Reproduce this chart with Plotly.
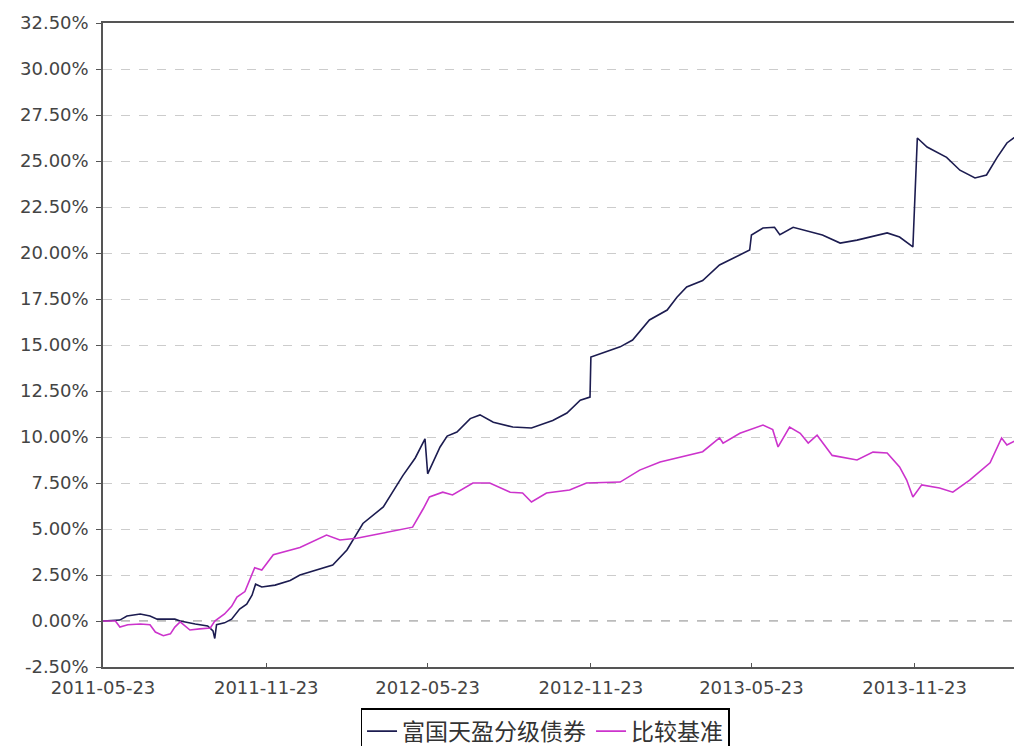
import plotly.graph_objects as go

fund_dates = [
    "2011-05-23", "2011-06-11", "2011-06-19", "2011-07-04", "2011-07-15", "2011-07-23",
    "2011-08-12", "2011-08-18", "2011-09-04", "2011-09-18", "2011-09-24", "2011-09-26",
    "2011-09-28", "2011-10-07", "2011-10-15", "2011-10-24", "2011-11-01", "2011-11-07",
    "2011-11-11", "2011-11-18", "2011-12-03", "2011-12-20", "2011-12-31", "2012-01-11",
    "2012-02-06", "2012-02-22", "2012-03-11", "2012-04-03", "2012-04-25", "2012-05-09",
    "2012-05-20", "2012-05-23", "2012-06-06", "2012-06-14", "2012-06-25", "2012-07-10",
    "2012-07-21", "2012-08-05", "2012-08-27", "2012-09-17", "2012-10-11", "2012-10-27",
    "2012-11-11", "2012-11-22", "2012-11-23", "2012-12-06", "2012-12-26", "2013-01-09",
    "2013-01-28", "2013-02-17", "2013-02-28", "2013-03-11", "2013-03-29", "2013-04-17",
    "2013-05-06", "2013-05-21", "2013-05-23", "2013-06-05", "2013-06-18", "2013-06-24",
    "2013-07-09", "2013-07-28", "2013-08-11", "2013-08-31", "2013-09-19", "2013-10-23",
    "2013-11-06", "2013-11-21", "2013-11-26", "2013-12-07", "2013-12-29", "2014-01-13",
    "2014-01-30", "2014-02-12", "2014-02-24", "2014-03-07", "2014-03-19", "2014-03-23",
]
fund_values = [
    0.00, 0.05, 0.27, 0.38, 0.27, 0.10,
    0.10, 0.00, -0.16, -0.27, -0.54, -0.95,
    -0.20, -0.10, 0.10, 0.65, 0.92, 1.40,
    2.00, 1.85, 1.95, 2.20, 2.50, 2.66,
    3.04, 3.86, 5.30, 6.20, 7.90, 8.86,
    9.90, 8.00, 9.46, 10.05, 10.27, 11.00,
    11.20, 10.80, 10.54, 10.49, 10.90, 11.30,
    12.00, 12.17, 14.35, 14.57, 14.90, 15.27,
    16.36, 16.90, 17.60, 18.15, 18.50, 19.35,
    19.80, 20.16, 20.98, 21.36, 21.40, 21.00,
    21.40, 21.14, 20.98, 20.54, 20.70, 21.09,
    20.87, 20.33, 26.25, 25.76, 25.20, 24.50,
    24.08, 24.24, 25.20, 25.98, 26.40, 26.30,
]

bench_dates = [
    "2011-05-23", "2011-06-06", "2011-06-11", "2011-06-20", "2011-07-04", "2011-07-15",
    "2011-07-21", "2011-07-30", "2011-08-07", "2011-08-12", "2011-08-18", "2011-08-29",
    "2011-09-09", "2011-09-21", "2011-09-26", "2011-10-07", "2011-10-15", "2011-10-21",
    "2011-10-30", "2011-11-07", "2011-11-10", "2011-11-18", "2011-12-01", "2011-12-31",
    "2012-01-30", "2012-02-14", "2012-03-04", "2012-04-03", "2012-05-06", "2012-05-18",
    "2012-05-25", "2012-06-09", "2012-06-20", "2012-07-13", "2012-08-01", "2012-08-24",
    "2012-09-07", "2012-09-17", "2012-10-04", "2012-10-30", "2012-11-18", "2012-12-26",
    "2013-01-17", "2013-02-09", "2013-03-03", "2013-03-29", "2013-04-17", "2013-04-21",
    "2013-05-10", "2013-06-05", "2013-06-16", "2013-06-22", "2013-07-05", "2013-07-17",
    "2013-07-26", "2013-08-05", "2013-08-22", "2013-09-19", "2013-10-07", "2013-10-23",
    "2013-11-06", "2013-11-14", "2013-11-21", "2013-12-01", "2013-12-21", "2014-01-05",
    "2014-01-24", "2014-02-16", "2014-03-01", "2014-03-07", "2014-03-18", "2014-03-23",
]
bench_values = [
    0.00, 0.00, -0.33, -0.20, -0.16, -0.20,
    -0.60, -0.80, -0.70, -0.33, -0.05, -0.49,
    -0.43, -0.38, 0.00, 0.38, 0.80, 1.30,
    1.60, 2.60, 2.90, 2.77, 3.60, 4.00,
    4.67, 4.40, 4.50, 4.78, 5.10, 6.10,
    6.74, 7.00, 6.85, 7.50, 7.50, 7.00,
    6.96, 6.47, 6.96, 7.12, 7.50, 7.55,
    8.20, 8.64, 8.90, 9.20, 9.95, 9.67,
    10.20, 10.65, 10.40, 9.46, 10.54, 10.20,
    9.67, 10.10, 9.00, 8.75, 9.18, 9.13,
    8.37, 7.66, 6.74, 7.40, 7.23, 7.00,
    7.66, 8.60, 9.95, 9.57, 9.84, 9.78,
]

series_names = ["富国天盈分级债券", "比较基准"]
x_ticks = ["2011-05-23", "2011-11-23", "2012-05-23", "2012-11-23", "2013-05-23", "2013-11-23"]
y_ticks = [-2.5, 0, 2.5, 5, 7.5, 10, 12.5, 15, 17.5, 20, 22.5, 25, 27.5, 30, 32.5]
y_tick_labels = [f"{v:.2f}%" for v in y_ticks]

fig = go.Figure()
fig.add_trace(go.Scatter(x=fund_dates, y=fund_values, mode="lines", name=series_names[0],
                         line=dict(color="#1c1c50", width=1.6)))
fig.add_trace(go.Scatter(x=bench_dates, y=bench_values, mode="lines", name=series_names[1],
                         line=dict(color="#cc33cc", width=1.6)))

fig.add_shape(type="line", xref="paper", x0=0, x1=1, yref="y", y0=0, y1=0,
              line=dict(color="#777777", width=1, dash="dash"), layer="below")

fig.update_layout(
    width=1014, height=738,
    margin=dict(l=95, r=0, t=15, b=79, autoexpand=False),
    paper_bgcolor="white", plot_bgcolor="white",
    font=dict(family="DejaVu Sans", size=18, color="#444444"),
    showlegend=True,
    legend=dict(orientation="h", x=0.481, xanchor="center", y=-0.064, yanchor="top",
                bordercolor="#000000", borderwidth=1.5,
                font=dict(family="Noto Sans CJK SC", size=23, color="#333333"),
                itemwidth=30, tracegroupgap=0),
    xaxis=dict(type="date", range=["2011-05-23", "2014-03-24"],
               tickvals=x_ticks, ticktext=x_ticks, automargin=False,
               showgrid=False, zeroline=False,
               showline=True, linecolor="#555555", linewidth=1.5, mirror=True,
               ticks="inside", ticklen=4, tickcolor="#555555",
               ticklabelstandoff=4,
               tickfont=dict(size=18, color="#444444")),
    yaxis=dict(range=[-2.5, 32.5], tickvals=y_ticks, ticktext=y_tick_labels,
               automargin=False,
               showgrid=True, gridcolor="#cccccc", griddash="dash", gridwidth=1,
               zeroline=False,
               showline=True, linecolor="#555555", linewidth=1.5,
               ticks="outside", ticklen=5, tickcolor="#555555",
               ticklabelstandoff=4,
               tickfont=dict(size=18, color="#444444")),
)

fig.write_html("out.html")
